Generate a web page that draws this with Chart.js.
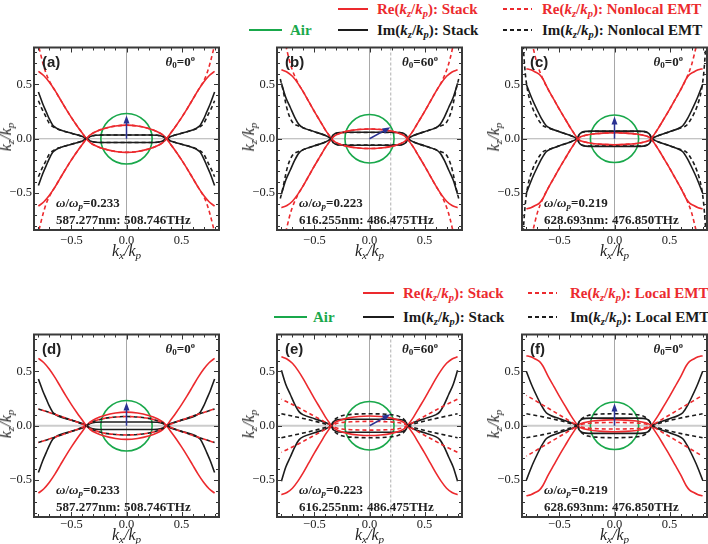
<!DOCTYPE html>
<html lang="en">
<head>
<meta charset="UTF-8" />
<title>kz/kp isofrequency contours</title>
<script src="https://cdn.jsdelivr.net/npm/chart.js"></script>
<style>
  body { margin: 0; background: #fff; }
  #fig { position: relative; width: 708px; height: 544px; overflow: hidden; font-family: "Liberation Serif", serif; color: #222; }
  canvas { position: absolute; }
  .t { position: absolute; white-space: nowrap; line-height: 16px; height: 16px; }
  .t sub { font-size: 70%; vertical-align: -0.25em; line-height: 0; }
  .t sup { font-size: 65%; vertical-align: 0.55em; line-height: 0; }
  .leg { font-weight: bold; font-size: 15px; }
  .sw { position: absolute; height: 2px; }
  .lbl { font-family: "Liberation Sans", sans-serif; font-weight: bold; font-size: 15px; }
  .note { font-weight: bold; font-size: 13px; }
  .ax { font-style: italic; font-size: 16px; }
</style>
</head>
<body>
<div id="fig"></div>
<script>
// ---------- data (kx >= 0, kz >= 0; curves are mirror symmetric) ----------
const xTicks = [-0.5, 0, 0.5];
const yTicks = [-0.5, 0, 0.5];
const minorTicks = [-0.8, -0.7, -0.6, -0.5, -0.4, -0.3, -0.2, -0.1, 0, 0.1, 0.2, 0.3, 0.4, 0.5, 0.6, 0.7, 0.8];

const omegaRatio = ['0.233', '0.223', '0.219', '0.233', '0.223', '0.219'];
const airRadius = [0.233, 0.223, 0.219, 0.233, 0.223, 0.219];
const waveLabel = ['587.277nm: 508.746THz', '616.255nm: 486.475THz', '628.693nm: 476.850THz',
                   '587.277nm: 508.746THz', '616.255nm: 486.475THz', '628.693nm: 476.850THz'];
const theta0 = ['0', '60', '0', '0', '60', '0'];
const arrowTip = [[0, 0.215], [0.19, 0.105], [0, 0.205], [0, 0.215], [0.19, 0.105], [0, 0.205]];
const incidenceLine = [null, 0.193, null, null, 0.193, null];

// stack, omega/omega_p = 0.233
const reStackA_in  = [[0,0.125],[0.1,0.117],[0.2,0.095],[0.28,0.065],[0.33,0.035],[0.365,0]];
const reStackA_out = [[0.365,0],[0.4,0.05],[0.45,0.12],[0.5,0.195],[0.55,0.275],[0.6,0.36],[0.65,0.445],[0.7,0.52],[0.75,0.58],[0.8,0.62]];
const imStackA_in  = [[0,0.035],[0.2,0.035],[0.28,0.032],[0.33,0.02],[0.365,0]];
const imStackA_out = [[0.365,0],[0.4,0.02],[0.5,0.05],[0.6,0.08],[0.64,0.1],[0.67,0.125],[0.7,0.18],[0.73,0.25],[0.76,0.32],[0.8,0.43]];
// stack, omega/omega_p = 0.223
const reStackB_in  = [[0,0.09],[0.1,0.085],[0.2,0.07],[0.28,0.045],[0.32,0.025],[0.345,0]];
const reStackB_out = [[0.345,0],[0.4,0.08],[0.45,0.165],[0.5,0.25],[0.55,0.34],[0.6,0.43],[0.65,0.51],[0.7,0.575],[0.75,0.615],[0.8,0.635]];
const imStackB_in  = [[0,0.06],[0.2,0.06],[0.27,0.058],[0.3,0.052],[0.32,0.042],[0.335,0.028],[0.345,0]];
const imStackB_out = [[0.345,0],[0.4,0.03],[0.5,0.065],[0.6,0.1],[0.64,0.13],[0.68,0.2],[0.72,0.29],[0.76,0.38],[0.8,0.51]];
// stack, omega/omega_p = 0.219
const reStackC_in  = [[0,0.055],[0.1,0.052],[0.2,0.043],[0.27,0.03],[0.31,0.017],[0.335,0]];
const reStackC_out = [[0.335,0],[0.4,0.1],[0.45,0.185],[0.5,0.27],[0.55,0.36],[0.6,0.45],[0.65,0.55],[0.68,0.59],[0.72,0.615],[0.76,0.635],[0.8,0.645]];
const imStackC_in  = [[0,0.07],[0.2,0.07],[0.26,0.068],[0.29,0.062],[0.31,0.05],[0.325,0.032],[0.335,0]];
const imStackC_out = [[0.335,0],[0.4,0.03],[0.5,0.065],[0.58,0.095],[0.62,0.12],[0.66,0.18],[0.7,0.26],[0.75,0.37],[0.8,0.5]];

// nonlocal EMT (a, b, c)
const reNonlocA_in  = [[0,0.125],[0.1,0.117],[0.2,0.095],[0.28,0.065],[0.33,0.035],[0.365,0]];
const reNonlocA_out = [[0.365,0],[0.4,0.05],[0.45,0.12],[0.5,0.195],[0.55,0.275],[0.6,0.36],[0.65,0.445],[0.7,0.53],[0.73,0.6],[0.76,0.7],[0.79,0.82],[0.81,0.9]];
const imNonlocA_in  = [[0,0.035],[0.2,0.035],[0.28,0.032],[0.33,0.02],[0.365,0]];
const imNonlocA_out = [[0.365,0],[0.4,0.02],[0.5,0.05],[0.6,0.08],[0.65,0.1],[0.7,0.14],[0.74,0.22],[0.77,0.28],[0.8,0.35]];
const reNonlocB_in  = [[0,0.09],[0.1,0.085],[0.2,0.07],[0.28,0.045],[0.32,0.025],[0.345,0]];
const reNonlocB_out = [[0.345,0],[0.4,0.08],[0.45,0.165],[0.5,0.25],[0.55,0.34],[0.6,0.43],[0.65,0.515],[0.7,0.63],[0.73,0.73],[0.76,0.86]];
const imNonlocB_in  = [[0,0.058],[0.2,0.058],[0.27,0.056],[0.3,0.05],[0.32,0.04],[0.335,0.026],[0.345,0]];
const imNonlocB_out = [[0.345,0],[0.4,0.03],[0.5,0.065],[0.6,0.1],[0.65,0.12],[0.69,0.14],[0.72,0.19],[0.75,0.28],[0.79,0.47],[0.81,0.55]];
const reNonlocC_in  = [[0,0.055],[0.1,0.052],[0.2,0.043],[0.27,0.03],[0.31,0.017],[0.335,0]];
const reNonlocC_out = [[0.335,0],[0.4,0.1],[0.45,0.185],[0.5,0.27],[0.55,0.36],[0.6,0.45],[0.65,0.55],[0.7,0.68],[0.74,0.84],[0.77,0.95]];
const imNonlocC_in  = [[0,0.068],[0.2,0.068],[0.26,0.066],[0.29,0.06],[0.31,0.048],[0.325,0.03],[0.335,0]];
const imNonlocC_out = [[0.335,0],[0.4,0.03],[0.5,0.065],[0.6,0.1],[0.65,0.12],[0.7,0.19],[0.75,0.3],[0.79,0.45],[0.81,0.6],[0.83,0.86]];

// local EMT (d, e, f)
const reLocD_in  = [[0,0.085],[0.1,0.08],[0.2,0.068],[0.28,0.047],[0.33,0.026],[0.365,0]];
const reLocD_out = [[0.365,0],[0.45,0.035],[0.55,0.07],[0.65,0.105],[0.8,0.155]];
const imLocD_in  = [[0,0.085],[0.1,0.08],[0.2,0.068],[0.28,0.047],[0.33,0.026],[0.365,0]];
const imLocD_out = [[0.365,0],[0.45,0.035],[0.55,0.07],[0.65,0.105],[0.8,0.155]];
const reLocE_in  = [[0,0.04],[0.15,0.037],[0.25,0.03],[0.31,0.017],[0.345,0]];
const reLocE_out = [[0.345,0],[0.45,0.06],[0.55,0.115],[0.65,0.17],[0.8,0.245]];
const imLocE_in  = [[0,0.11],[0.15,0.106],[0.24,0.095],[0.29,0.075],[0.325,0.045],[0.345,0]];
const imLocE_out = [[0.345,0],[0.45,0.03],[0.55,0.055],[0.65,0.078],[0.8,0.11]];
const reLocF_in  = [[0,0.03],[0.15,0.028],[0.25,0.021],[0.3,0.012],[0.335,0]];
const reLocF_out = [[0.335,0],[0.45,0.07],[0.55,0.13],[0.65,0.19],[0.8,0.28]];
const imLocF_in  = [[0,0.11],[0.15,0.106],[0.24,0.095],[0.28,0.078],[0.315,0.045],[0.335,0]];
const imLocF_out = [[0.335,0],[0.45,0.035],[0.55,0.06],[0.65,0.082],[0.8,0.11]];

const stackCurves = [
  [reStackA_in, reStackA_out, imStackA_in, imStackA_out],
  [reStackB_in, reStackB_out, imStackB_in, imStackB_out],
  [reStackC_in, reStackC_out, imStackC_in, imStackC_out],
  [reStackA_in, reStackA_out, imStackA_in, imStackA_out],
  [reStackB_in, reStackB_out, imStackB_in, imStackB_out],
  [reStackC_in, reStackC_out, imStackC_in, imStackC_out]
];
const emtCurves = [
  [reNonlocA_in, reNonlocA_out, imNonlocA_in, imNonlocA_out],
  [reNonlocB_in, reNonlocB_out, imNonlocB_in, imNonlocB_out],
  [reNonlocC_in, reNonlocC_out, imNonlocC_in, imNonlocC_out],
  [reLocD_in, reLocD_out, imLocD_in, imLocD_out],
  [reLocE_in, reLocE_out, imLocE_in, imLocE_out],
  [reLocF_in, reLocF_out, imLocF_in, imLocF_out]
];
const panelLetters = ['(a)', '(b)', '(c)', '(d)', '(e)', '(f)'];

// ---------- layout ----------
const boxes = [[34,44,185,186],[277,44,185,186],[522,44,185,186],
               [34,331,185,186],[277,331,185,186],[522,331,185,186]];
const RED = '#ec2a2e', BLACK = '#1c1c1c', GREEN = '#19a84b', BLUE = '#2a3192';
const fig = document.getElementById('fig');

function addText(cls, html, left, cy, extra) {
  const d = document.createElement('div');
  d.className = 't ' + cls;
  d.innerHTML = html;
  d.style.left = left + 'px';
  d.style.top = (cy - 8) + 'px';
  if (extra) Object.assign(d.style, extra);
  fig.appendChild(d);
  return d;
}
function addSwatch(x0, x1, cy, color, dashed) {
  const s = document.createElement('div');
  s.className = 'sw';
  s.style.left = x0 + 'px';
  s.style.width = (x1 - x0) + 'px';
  s.style.top = (cy - 1) + 'px';
  s.style.background = dashed
    ? `repeating-linear-gradient(90deg, ${color} 0 4px, transparent 4px 7px)`
    : color;
  fig.appendChild(s);
}

const kzkp = '(<i>k</i><sub><i>z</i></sub>/<i>k</i><sub><i>p</i></sub>)';
function legendRow(y1, y2, xs) {
  // xs: [airLine0, airLine1, airText, stackLine0, stackLine1, stackText, emtLine0, emtLine1, emtText, kind]
  return [
    { y: y1, l0: xs[3], l1: xs[4], tx: xs[5], color: RED, dash: false, html: `Re${kzkp}: Stack` },
    { y: y1, l0: xs[6], l1: xs[7], tx: xs[8], color: RED, dash: true, html: `Re${kzkp}: ${xs[9]} EMT` },
    { y: y2, l0: xs[0], l1: xs[1], tx: xs[2], color: GREEN, dash: false, html: 'Air' },
    { y: y2, l0: xs[3], l1: xs[4], tx: xs[5], color: BLACK, dash: false, html: `Im${kzkp}: Stack` },
    { y: y2, l0: xs[6], l1: xs[7], tx: xs[8], color: BLACK, dash: true, html: `Im${kzkp}: ${xs[9]} EMT` }
  ];
}
const legends = legendRow(9, 30, [249, 282, 290, 338, 368, 377, 503, 532, 542, 'Nonlocal'])
  .concat(legendRow(293, 317, [274, 307, 313, 363, 394, 403, 528, 557, 570, 'Local']));
legends.forEach(it => {
  addSwatch(it.l0, it.l1, it.y, it.color, it.dash);
  addText('leg', it.html, it.tx, it.y, { color: it.color === BLACK ? '#1a1a1a' : it.color });
});

// ---------- helpers ----------
function innerPts(pts, s) {
  const right = pts.map(p => ({ x: p[0], y: s * p[1] }));
  const left = pts.slice(1).map(p => ({ x: -p[0], y: s * p[1] })).reverse();
  return left.concat(right);
}
function outerPts(pts, side, s) {
  const o = pts.map(p => ({ x: side * p[0], y: s * p[1] }));
  return side < 0 ? o.reverse() : o;
}
function curveSets(inner, outer, color, dash, dashOffset, order) {
  const base = { borderColor: color, borderWidth: 1.6, pointRadius: 0, showLine: true,
                 cubicInterpolationMode: 'monotone', borderDash: dash, borderDashOffset: dashOffset, order };
  const out = [];
  [1, -1].forEach(s => {
    out.push(Object.assign({ data: innerPts(inner, s) }, base));
    out.push(Object.assign({ data: outerPts(outer, 1, s) }, base));
    out.push(Object.assign({ data: outerPts(outer, -1, s) }, base));
  });
  return out;
}
const fmt = v => (Math.abs(v) < 1e-9 ? '0.0' : v.toFixed(1).replace('-', '\u2212'));

function panelPlugin(i) {
  return {
    id: 'panel' + i,
    beforeDatasetsDraw(chart) {
      const { ctx, chartArea: a, scales: { x, y } } = chart;
      ctx.save();
      const x0 = x.getPixelForValue(0), y0 = y.getPixelForValue(0);
      ctx.strokeStyle = '#a8a8a8'; ctx.lineWidth = 1;
      ctx.beginPath(); ctx.moveTo(x0, a.top); ctx.lineTo(x0, a.bottom); ctx.stroke();
      ctx.strokeStyle = i < 3 ? '#b0b0b0' : '#cccccc'; ctx.lineWidth = i < 3 ? 1 : 2;
      ctx.beginPath(); ctx.moveTo(a.left, y0); ctx.lineTo(a.right, y0); ctx.stroke();
      if (incidenceLine[i] !== null) {
        const xi = x.getPixelForValue(incidenceLine[i]);
        ctx.strokeStyle = '#9a9a9a'; ctx.lineWidth = 0.8; ctx.setLineDash([3, 2]);
        ctx.beginPath(); ctx.moveTo(xi, a.top); ctx.lineTo(xi, a.bottom); ctx.stroke();
        ctx.setLineDash([]);
      }
      const rx = x.getPixelForValue(airRadius[i]) - x0, ry = y0 - y.getPixelForValue(airRadius[i]);
      ctx.strokeStyle = GREEN; ctx.lineWidth = 1.6;
      ctx.beginPath(); ctx.ellipse(x0, y0, rx, ry, 0, 0, Math.PI * 2); ctx.stroke();
      ctx.restore();
    },
    afterDatasetsDraw(chart) {
      const { ctx, chartArea: a, scales: { x, y } } = chart;
      ctx.save();
      // incident wave vector
      const x0 = x.getPixelForValue(0), y0 = y.getPixelForValue(0);
      const xt = x.getPixelForValue(arrowTip[i][0]), yt = y.getPixelForValue(arrowTip[i][1]);
      const ang = Math.atan2(yt - y0, xt - x0);
      ctx.strokeStyle = BLUE; ctx.fillStyle = BLUE; ctx.lineWidth = 1.5;
      ctx.beginPath(); ctx.moveTo(x0, y0);
      ctx.lineTo(xt - 6 * Math.cos(ang), yt - 6 * Math.sin(ang)); ctx.stroke();
      ctx.beginPath(); ctx.moveTo(xt, yt);
      ctx.lineTo(xt - 8 * Math.cos(ang) + 3 * Math.sin(ang), yt - 8 * Math.sin(ang) - 3 * Math.cos(ang));
      ctx.lineTo(xt - 8 * Math.cos(ang) - 3 * Math.sin(ang), yt - 8 * Math.sin(ang) + 3 * Math.cos(ang));
      ctx.closePath(); ctx.fill();
      // inner ticks on all sides
      ctx.strokeStyle = '#333'; ctx.lineWidth = 1;
      minorTicks.forEach(v => {
        const major = xTicks.includes(v);
        const L = major ? 5 : 3;
        const px = Math.round(x.getPixelForValue(v)) + 0.5;
        const py = Math.round(y.getPixelForValue(v)) + 0.5;
        ctx.beginPath();
        ctx.moveTo(px, a.bottom); ctx.lineTo(px, a.bottom - L);
        ctx.moveTo(px, a.top); ctx.lineTo(px, a.top + L);
        ctx.moveTo(a.left, py); ctx.lineTo(a.left + L, py);
        ctx.moveTo(a.right, py); ctx.lineTo(a.right - L, py);
        ctx.stroke();
      });
      ctx.strokeStyle = '#3a3a3a'; ctx.lineWidth = 2;
      ctx.strokeRect(a.left, a.top, a.right - a.left, a.bottom - a.top);
      ctx.restore();
    }
  };
}

// ---------- panels ----------
boxes.forEach((b, i) => {
  const [L, T, W, H] = b;
  const cv = document.createElement('canvas');
  cv.width = 34 + W + 6; cv.height = 6 + H + 24;
  cv.style.left = (L - 34) + 'px'; cv.style.top = (T - 6) + 'px';
  fig.appendChild(cv);

  const [reS_in, reS_out, imS_in, imS_out] = stackCurves[i];
  const [reE_in, reE_out, imE_in, imE_out] = emtCurves[i];
  const datasets = []
    .concat(curveSets(reE_in, reE_out, RED, [4, 3], i < 3 ? 0 : 3.5, 0))
    .concat(curveSets(imE_in, imE_out, BLACK, [4, 3], 0, 1))
    .concat(curveSets(reS_in, reS_out, RED, [], 0, 2))
    .concat(curveSets(imS_in, imS_out, BLACK, [], 0, 3));

  const tickFont = { family: 'Liberation Serif', size: 12.5 };
  new Chart(cv, {
    type: 'scatter',
    data: { datasets },
    options: {
      responsive: false, animation: false, devicePixelRatio: 1, events: [],
      layout: { padding: { left: 0, top: 6, right: 6, bottom: 0 } },
      plugins: { legend: { display: false }, tooltip: { enabled: false } },
      scales: {
        x: {
          type: 'linear', min: -0.84, max: 0.84,
          grid: { display: false, drawTicks: false }, border: { display: false },
          afterBuildTicks: s => { s.ticks = xTicks.map(v => ({ value: v })); },
          afterFit: s => { s.height = 24; },
          ticks: { font: tickFont, color: '#222', padding: i < 3 ? 3 : 0, maxRotation: 0, autoSkip: false, callback: v => fmt(v) }
        },
        y: {
          type: 'linear', min: -0.84, max: 0.84,
          grid: { display: false, drawTicks: false }, border: { display: false },
          afterBuildTicks: s => { s.ticks = yTicks.map(v => ({ value: v })); },
          afterFit: s => { s.width = 34; },
          ticks: { font: tickFont, color: '#222', padding: 2, autoSkip: false, callback: v => fmt(v) }
        }
      }
    },
    plugins: [panelPlugin(i)]
  });

  // texts inside and around the frame
  addText('lbl', panelLetters[i], L + 8, T + 18);
  addText('note', `<i>θ</i><sub>0</sub>=${theta0[i]}<sup>o</sup>`, 0, T + 18,
          { left: 'auto', right: (708 - (L + W - 24)) + 'px' });
  addText('note', `<i>ω</i>/<i>ω</i><sub><i>p</i></sub>=${omegaRatio[i]}`, L + 22, T + H - 27);
  addText('note', waveLabel[i], L + 22, T + H - 10);
  addText('ax', '<i>k</i><sub><i>x</i></sub>/<i>k</i><sub><i>p</i></sub>', L + W / 2, T + H + (i < 3 ? 21 : 18),
          { transform: 'translateX(-50%)' });
  addText('ax', '<i>k</i><sub><i>z</i></sub>/<i>k</i><sub><i>p</i></sub>', L - 28, T + H / 2,
          { transform: 'translate(-50%, 0) rotate(-90deg)' });
});
</script>
</body>
</html>
